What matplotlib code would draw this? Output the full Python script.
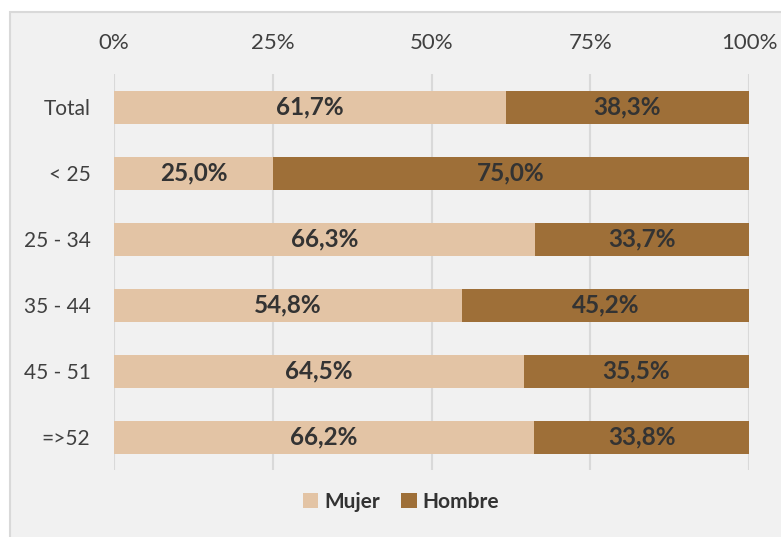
import matplotlib
matplotlib.use("Agg")
import matplotlib.pyplot as plt
from matplotlib.patches import Rectangle
from matplotlib.ticker import PercentFormatter

plt.rcParams['font.family'] = ['Lato', 'DejaVu Sans']

categories = ['Total', '< 25', '25 - 34', '35 - 44', '45 - 51', '=>52']
mujer = [61.7, 25.0, 66.3, 54.8, 64.5, 66.2]
hombre = [38.3, 75.0, 33.7, 45.2, 35.5, 33.8]
ticks = [0, 25, 50, 75, 100]

c_mujer = '#e3c4a5'
c_hombre = '#9e6f38'
c_text = '#404040'
bg = '#f1f1f1'

fig = plt.figure(figsize=(7.81, 5.37), dpi=100)
fig.patch.set_facecolor('white')
# grey chart area with thin border
fig.patches.append(Rectangle((10 / 781, -0.01), 1.0, 1 - 12 / 537 + 0.01,
                             transform=fig.transFigure, facecolor=bg,
                             edgecolor='#d9d9d9', lw=1.5, zorder=-1))

ax = fig.add_axes([114 / 781, 1 - 470 / 537, (749 - 114) / 781, (470 - 74) / 537])
ax.set_facecolor('none')

y = range(len(categories))
ax.barh(y, mujer, height=0.5, color=c_mujer, label='Mujer', zorder=2)
ax.barh(y, hombre, left=mujer, height=0.5, color=c_hombre, label='Hombre', zorder=2)

for i, (m, h) in enumerate(zip(mujer, hombre)):
    ax.text(m / 2, i, f'{m:.1f}%'.replace('.', ','), ha='center', va='center',
            fontsize=17.5, fontweight='bold', color='#333333', zorder=3)
    ax.text(m + h / 2, i, f'{h:.1f}%'.replace('.', ','), ha='center', va='center',
            fontsize=17.5, fontweight='bold', color='#333333', zorder=3)

ax.set_xlim(0, 100)
ax.set_ylim(len(categories) - 0.5, -0.5)
ax.set_xticks(ticks)
ax.xaxis.set_major_formatter(PercentFormatter(decimals=0))
ax.xaxis.tick_top()
ax.set_yticks(list(y))
ax.set_yticklabels(categories)
ax.tick_params(axis='both', length=0, labelsize=16, labelcolor=c_text)
ax.tick_params(axis='y', labelsize=15)
ax.tick_params(axis='x', pad=15)
ax.tick_params(axis='y', pad=17)
ax.grid(axis='x', color='#d9d9d9', lw=1.5, zorder=1)
for s in ax.spines.values():
    s.set_visible(False)

leg = fig.legend(loc='center', bbox_to_anchor=(401 / 781, 1 - 502 / 537), ncol=2,
                 frameon=False, handlelength=0.75, handleheight=0.75,
                 handletextpad=0.3, columnspacing=1.0,
                 prop={'size': 15, 'weight': 'bold'})
for t in leg.get_texts():
    t.set_color('#333333')

fig.savefig('out.png', dpi=100)
